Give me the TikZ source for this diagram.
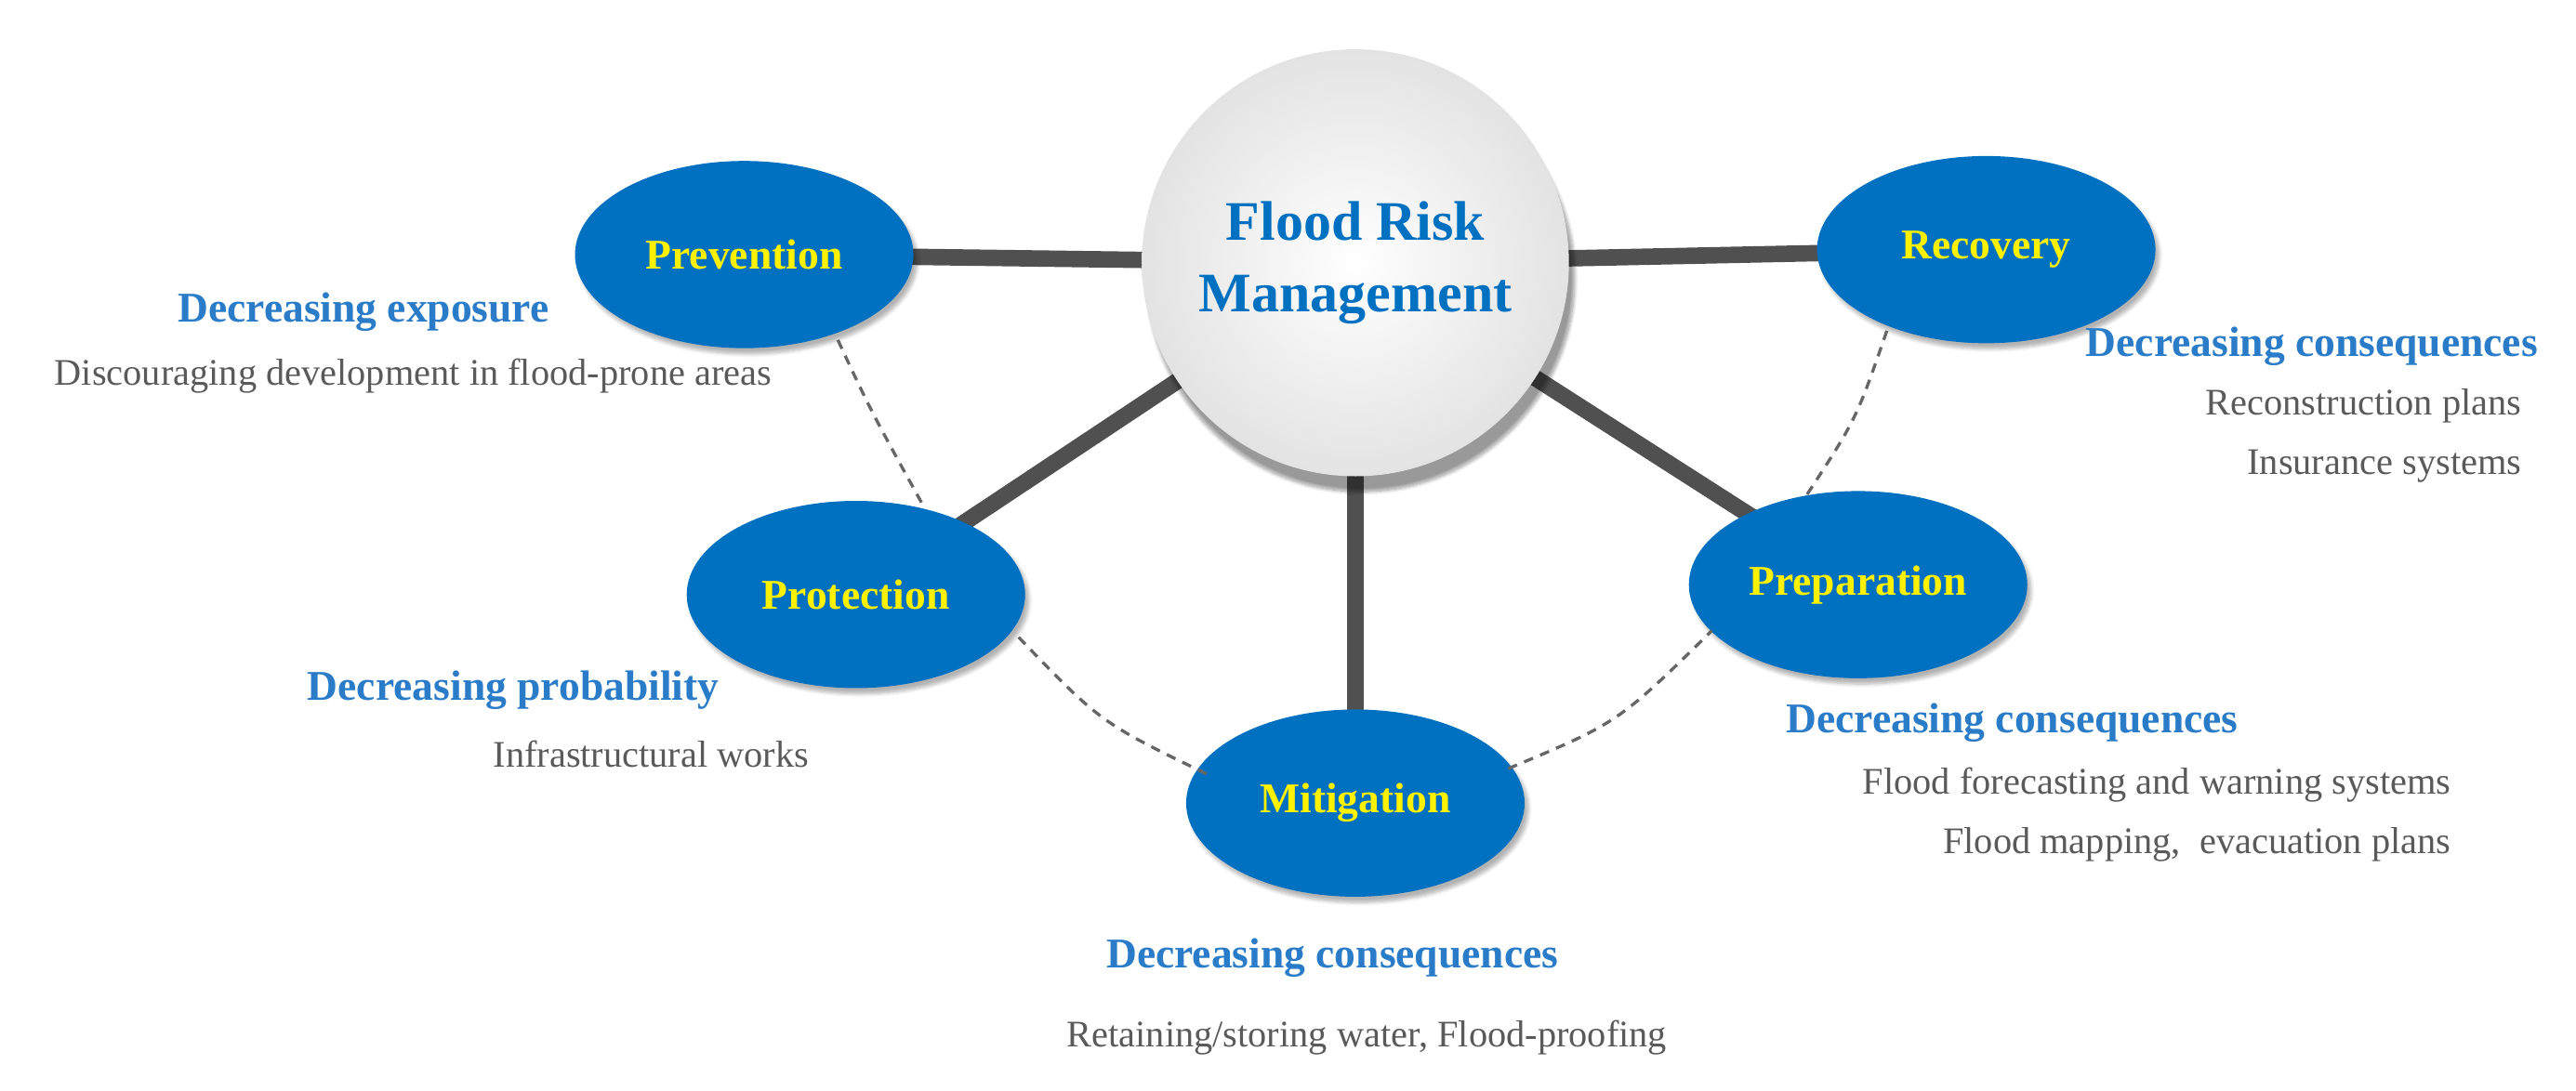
\documentclass[tikz,border=0pt]{standalone}
\usepackage{fontspec}
\setmainfont{Liberation Serif}
\usetikzlibrary{shadows,shadows.blur,shapes.geometric}
\definecolor{ellblue}{HTML}{0070C0}
\definecolor{lblblue}{HTML}{2A7CC8}
\definecolor{txtgray}{HTML}{5A5A5A}
\definecolor{linegray}{HTML}{505050}
\tikzset{
  phase/.style={ellipse, fill=ellblue, minimum width=206*0.03cm, minimum height=114*0.03cm,
    text=yellow, font=\fontsize{22pt}{26pt}\selectfont\bfseries, blur shadow={shadow blur steps=6, shadow xshift=2pt, shadow yshift=-3pt, shadow opacity=30}},
  head/.style={text=lblblue, font=\fontsize{22pt}{26pt}\selectfont\bfseries, inner sep=0pt},
  body/.style={text=txtgray, font=\fontsize{19.5pt}{23pt}\selectfont, inner sep=0pt},
  spoke/.style={line width=10*0.03cm, draw=linegray},
  link/.style={draw=gray!80!black, dash pattern=on 5pt off 4pt, line width=1.6pt}
}
\begin{document}
\begin{tikzpicture}[x=0.03cm,y=-0.03cm]
\useasboundingbox (0,0) rectangle (1568,664);
\coordinate (prev) at (453,155);
\coordinate (reco) at (1209,152);
\coordinate (prot) at (521,362);
\coordinate (prep) at (1131,356);
\coordinate (miti) at (825,489);
\coordinate (frm) at (825,160);
\draw[spoke] (frm) -- (prev);
\draw[spoke] (frm) -- (reco);
\draw[spoke] (frm) -- (prot);
\draw[spoke] (frm) -- (prep);
\draw[spoke] (frm) -- (miti);
\node[circle, minimum size=260*0.03cm, inner sep=0pt, inner color=white, outer color=gray!22,
  blur shadow={shadow blur steps=10, shadow xshift=3pt, shadow yshift=-8pt, shadow opacity=40},
  align=center, text=ellblue, font=\fontsize{29pt}{37pt}\selectfont\bfseries] (circ) at (frm) {Flood Risk\\Management};
\node[phase] (n1) at (prev) {Prevention};
\node[phase] (n2) at (reco) {Recovery};
\node[phase] (n3) at (prot) {Protection};
\node[phase] (n4) at (prep) {Preparation};
\node[phase] (n5) at (miti) {Mitigation};
\coordinate (a1) at (510,207); \coordinate (a2) at (562,308);
\coordinate (b1) at (620,388); \coordinate (b2) at (736,472);
\coordinate (c1) at (918,468); \coordinate (c2) at (1042,384);
\coordinate (d1) at (1100,301); \coordinate (d2) at (1149,200);
\draw[link] (a1) .. controls (530,250) .. (a2);
\draw[link] (b1) .. controls (670,440) .. (b2);
\draw[link] (c1) .. controls (985,440) .. (c2);
\draw[link] (d1) .. controls (1130,255) .. (d2);
\node[head, anchor=west] (h1) at (108,190) {Decreasing exposure};
\node[body, anchor=west] (t1) at (33,229) {Discouraging development in flood-prone areas};
\node[head, anchor=east] (h2) at (1545,211) {Decreasing consequences};
\node[body, anchor=east] (t2) at (1535,247) {Reconstruction plans};
\node[body, anchor=east] (t3) at (1535,284) {Insurance systems};
\node[head, anchor=west] (h3) at (187,420) {Decreasing probability};
\node[body, anchor=west] (t4) at (300,459) {Infrastructural works};
\node[head, anchor=west] (h4) at (1087,440) {Decreasing consequences};
\node[body, anchor=east] (t5) at (1492,478) {Flood forecasting and warning systems};
\node[body, anchor=east] (t6) at (1492,514) {Flood mapping,\ \ evacuation plans};
\node[head] (h5) at (811,583) {Decreasing consequences};
\node[body] (t7) at (832,632) {Retaining/storing water, Flood-proofing};
\end{tikzpicture}
\end{document}
